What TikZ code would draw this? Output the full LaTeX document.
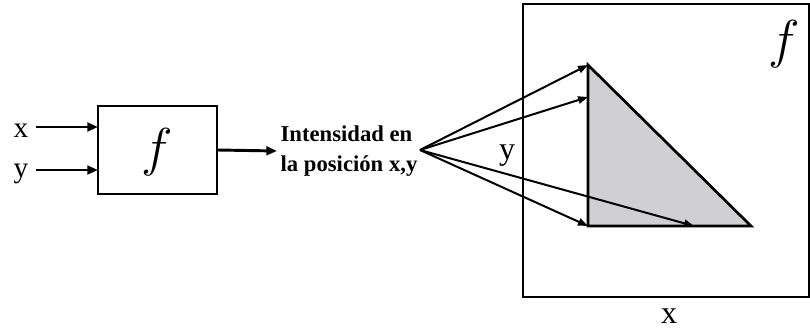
\RequirePackage{fix-cm}
\documentclass[tikz,border=0pt]{standalone}
\usepackage{fontspec}
\setmainfont{Liberation Serif}
\usetikzlibrary{arrows.meta}
\begin{document}
\begin{tikzpicture}[x=0.75pt,y=-0.75pt,
  line width=1.5pt,
  arr/.style={-{Triangle[length=7.5pt,width=5.5pt]}},
  thickarr/.style={line width=2.2pt,-{Triangle[length=8pt,width=6.5pt]}},
  lbl/.style={font=\fontsize{22}{26}\selectfont, inner sep=0pt, anchor=base},
  bigf/.style={font=\fontsize{40}{46}\selectfont, inner sep=0pt},
  blk/.style={draw, line width=1.5pt, inner sep=0pt}]
\useasboundingbox (0,0) rectangle (810,329);
% left block
\node[blk, minimum width=119*0.75pt, minimum height=88*0.75pt] (box) at (157.5,150) {};
\node[bigf] (fsmall) at (157,152) {$f$};
\node[lbl] (xin) at (21,137) {x};
\node[lbl] (yin) at (21,177) {y};
\coordinate (xs) at (36,127);
\coordinate (ys) at (36,170);
\coordinate (xa) at (98,127);
\coordinate (ya) at (98,170);
\draw[thickarr] (xs) -- (xa);
\draw[thickarr] (ys) -- (ya);
\node[font=\fontsize{17}{22}\selectfont\bfseries, align=left, inner sep=0pt] (txt) at (349,151) {Intensidad en\\la posición x,y};
\coordinate (oe) at (277,151);
\draw[thickarr] (box.east) -- (oe);
% right frame
\node[draw, line width=1.5pt, minimum width=286*0.75pt, minimum height=293*0.75pt, inner sep=0pt] (frame) at (666,150.5) {};
\node[bigf] (fbig) at (784,44) {$f$};
\node[lbl, font=\fontsize{24}{28}\selectfont] (xlab) at (669,323) {x};
\node[lbl, font=\fontsize{24}{28}\selectfont] (ylab) at (507,159) {y};
% triangle
\coordinate (t1) at (588,65);
\coordinate (t2) at (588,226);
\coordinate (t3) at (751,226);
\filldraw[fill={rgb,255:red,208;green,207;blue,209}, line width=2pt, line join=miter] (t1) -- (t2) -- (t3) -- cycle;
% fan
\coordinate (src) at (420,150);
\coordinate (p2) at (588,97);
\coordinate (p4) at (694,226);
\draw[arr] (src) -- (t1);
\draw[arr] (src) -- (p2);
\draw[arr] (src) -- (t2);
\draw[arr] (src) -- (p4);
\end{tikzpicture}
\end{document}
